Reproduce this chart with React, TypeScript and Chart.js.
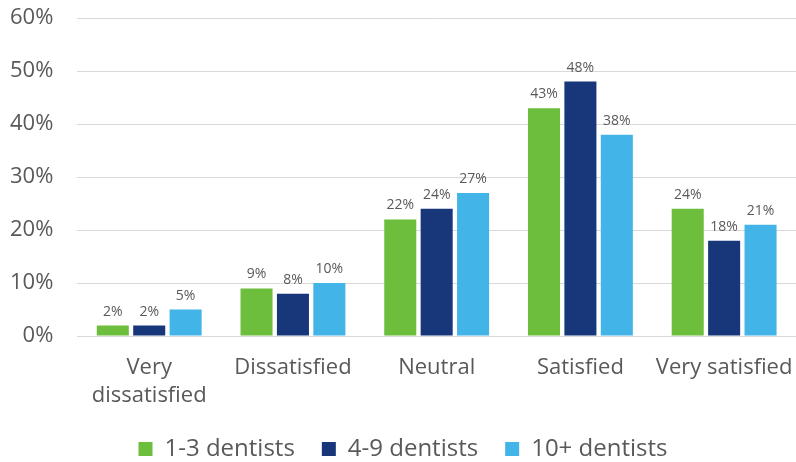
import React, { useEffect, useRef } from "react";
import { Chart, registerables } from "chart.js";

Chart.register(...registerables);

const categories: (string | string[])[] = [
  ["Very", "dissatisfied"],
  "Dissatisfied",
  "Neutral",
  "Satisfied",
  "Very satisfied",
];
const seriesNames = ["1-3 dentists", "4-9 dentists", "10+ dentists"];
const small = [2, 9, 22, 43, 24];
const medium = [2, 8, 24, 48, 18];
const large = [5, 10, 27, 38, 21];
const colors = ["#6DBE3D", "#17377A", "#42B4E8"];
const yTicks = [0, 10, 20, 30, 40, 50, 60];

const FONT = "'Open Sans', sans-serif";
const TEXT = "#595959";

const labelPlugin = {
  id: "barLabels",
  afterDatasetsDraw(chart: any) {
    const ctx = chart.ctx;
    ctx.save();
    ctx.font = `14px ${FONT}`;
    ctx.fillStyle = TEXT;
    ctx.textAlign = "center";
    ctx.textBaseline = "bottom";
    chart.data.datasets.forEach((ds: any, i: number) => {
      const meta = chart.getDatasetMeta(i);
      meta.data.forEach((bar: any, j: number) => {
        ctx.fillText(ds.data[j] + "%", bar.x, bar.y - 7);
      });
    });
    ctx.restore();
  },
};

export default function App() {
  const ref = useRef<HTMLCanvasElement>(null);
  useEffect(() => {
    document.body.style.margin = "0";
    const datasets = [small, medium, large].map((d, i) => ({
      label: seriesNames[i],
      data: d,
      backgroundColor: colors[i],
      borderWidth: 0,
      barPercentage: 0.88,
      categoryPercentage: 0.76,
    }));
    const chart = new Chart(ref.current!, {
      type: "bar",
      data: { labels: categories, datasets },
      options: {
        animation: false,
        responsive: false,
        maintainAspectRatio: false,
        layout: { padding: { top: 18, right: 0, left: 10, bottom: -9 } },
        plugins: {
          legend: {
            position: "bottom",
            labels: {
              font: { family: FONT, size: 24 },
              color: TEXT,
              boxWidth: 14,
              boxHeight: 14,
              padding: 27,
            },
          },
          tooltip: { enabled: false },
        },
        scales: {
          x: {
            grid: {
              display: true,
              color: "rgba(0,0,0,0)",
              drawTicks: true,
              tickLength: 18,
              tickColor: "rgba(0,0,0,0)",
            },
            border: { color: "#d9d9d9" },
            ticks: {
              font: { family: FONT, size: 22, lineHeight: 1.27 },
              color: TEXT,
              maxRotation: 0,
              autoSkip: false,
              padding: 0,
            },
          },
          y: {
            min: 0,
            max: 60,
            afterBuildTicks: (axis: any) => {
              axis.ticks = yTicks.map((v) => ({ value: v }));
            },
            grid: {
              color: "#d9d9d9",
              drawTicks: true,
              tickLength: 24,
              tickColor: "rgba(0,0,0,0)",
            },
            border: { display: false },
            ticks: {
              font: { family: FONT, size: 22 },
              color: TEXT,
              padding: 0,
              callback: (v: any) => v + "%",
            },
          },
        },
      },
      plugins: [labelPlugin],
    });
    return () => chart.destroy();
  }, []);
  return <canvas ref={ref} width={796} height={462} style={{ display: "block" }} />;
}
